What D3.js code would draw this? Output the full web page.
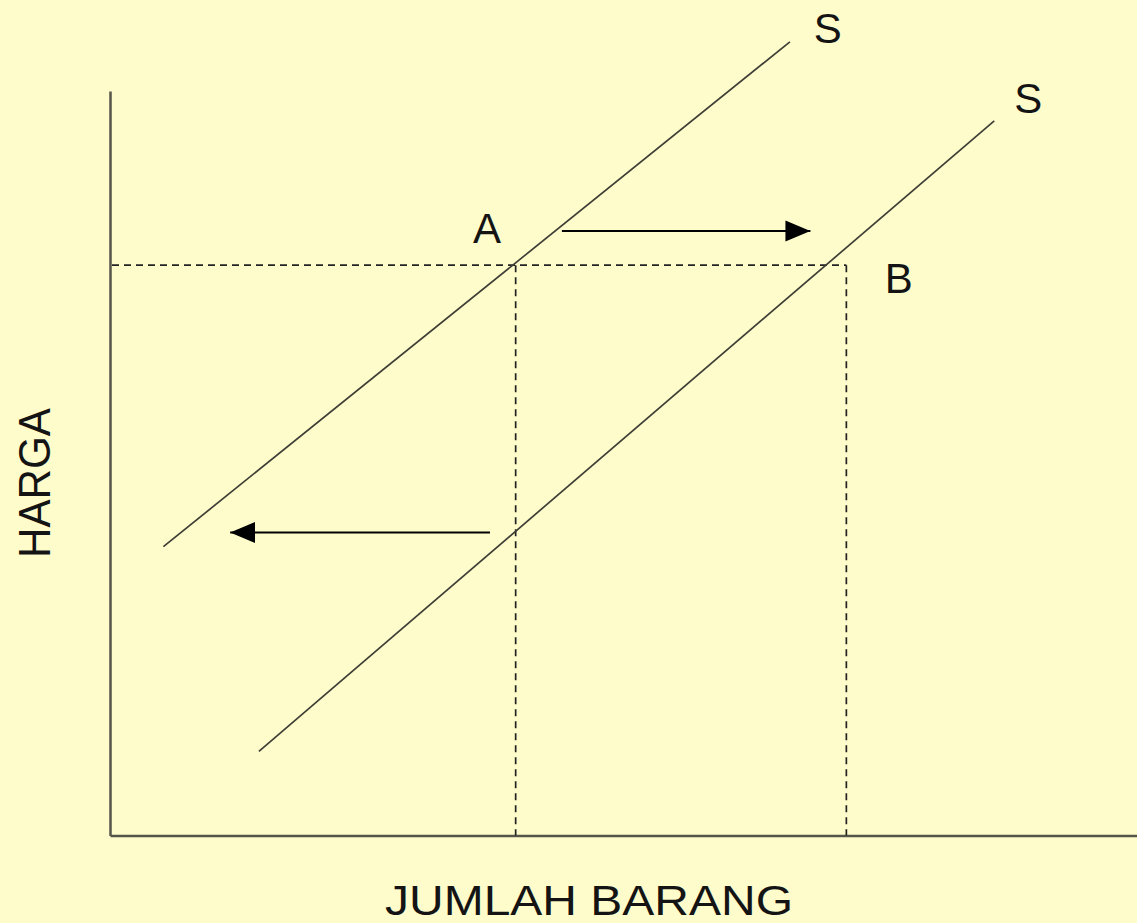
<!DOCTYPE html>
<html>
<head>
<meta charset="utf-8">
<script src="https://cdn.jsdelivr.net/npm/d3@7"></script>
<style>
  html, body { margin: 0; padding: 0; background: #fffccb; }
  svg { display: block; }
  text { font-family: 'Liberation Sans', Arial, sans-serif; fill: #141414; }
</style>
</head>
<body>
<script>
const w = 1137;
const h = 923;

// supply curves, [quantity, price] ends
const supplyLines = [
  { name: 'S', pts: [[5.2, 38.8], [66.2, 106.6]], label: [69.9, 106.4] },
  { name: 'S', pts: [[14.5, 11.3], [86.1, 96.0]], label: [89.4, 97.0] }
];
const price = 76.6;
const quantities = [39.5, 71.7];
const pointLabels = [
  { name: 'A', pos: [36.7, 79.6] },
  { name: 'B', pos: [76.8, 72.9] }
];
// shift arrows [fromX, toX, y]
const shifts = [
  [44.0, 68.2, 81.2],
  [37.0, 11.7, 40.7]
];

const x = d3.scaleLinear().domain([0, 100]).range([110, 1137]);
const y = d3.scaleLinear().domain([0, 100]).range([835.5, 91]);

const svg = d3.select('body')
              .append('svg')
              .attr('width', w)
              .attr('height', h);

svg.append('rect')
   .attr('width', w)
   .attr('height', h)
   .attr('fill', '#fffccb');

svg.append('defs')
   .append('marker')
   .attr('id', 'head')
   .attr('markerUnits', 'userSpaceOnUse')
   .attr('markerWidth', 26)
   .attr('markerHeight', 22)
   .attr('refX', 25)
   .attr('refY', 10.5)
   .attr('orient', 'auto')
   .append('path')
   .attr('d', 'M0,0 L25,10.5 L0,21 Z')
   .attr('fill', '#000');

// axes, no ticks
const xAxis = d3.axisBottom(x).tickValues([]).tickSizeOuter(0);
const yAxis = d3.axisLeft(y).tickValues([]).tickSizeOuter(0);

svg.append('g')
   .attr('transform', 'translate(0,' + y(0) + ')')
   .call(xAxis)
   .select('.domain')
   .attr('stroke', '#55554a')
   .attr('stroke-width', 2.5);

svg.append('g')
   .attr('transform', 'translate(' + x(0) + ',0)')
   .call(yAxis)
   .select('.domain')
   .attr('stroke', '#55554a')
   .attr('stroke-width', 2.5);

// dashed guides
const guides = svg.append('g')
                  .attr('stroke', '#222')
                  .attr('stroke-width', 1.7)
                  .attr('stroke-dasharray', '7,5');

guides.append('line')
      .attr('x1', x(0) + 2)
      .attr('x2', x(quantities[1]))
      .attr('y1', y(price))
      .attr('y2', y(price));

guides.selectAll('.v')
      .data(quantities)
      .enter()
      .append('line')
      .attr('class', 'v')
      .attr('x1', d => x(d))
      .attr('x2', d => x(d))
      .attr('y1', y(price))
      .attr('y2', y(0));

// supply lines
const line = d3.line().x(d => x(d[0])).y(d => y(d[1]));

svg.selectAll('.supply')
   .data(supplyLines)
   .enter()
   .append('path')
   .attr('class', 'supply')
   .attr('d', d => line(d.pts))
   .attr('fill', 'none')
   .attr('stroke', '#3e3e36')
   .attr('stroke-width', 1.7);

svg.selectAll('.slabel')
   .data(supplyLines)
   .enter()
   .append('text')
   .attr('class', 'slabel')
   .attr('x', d => x(d.label[0]))
   .attr('y', d => y(d.label[1]))
   .attr('text-anchor', 'middle')
   .attr('font-size', 42)
   .text(d => d.name);

svg.selectAll('.plabel')
   .data(pointLabels)
   .enter()
   .append('text')
   .attr('class', 'plabel')
   .attr('x', d => x(d.pos[0]))
   .attr('y', d => y(d.pos[1]))
   .attr('text-anchor', 'middle')
   .attr('font-size', 42)
   .text(d => d.name);

// shift arrows
svg.selectAll('.shift')
   .data(shifts)
   .enter()
   .append('line')
   .attr('class', 'shift')
   .attr('x1', d => x(d[0]))
   .attr('x2', d => x(d[1]))
   .attr('y1', d => y(d[2]))
   .attr('y2', d => y(d[2]))
   .attr('stroke', '#000')
   .attr('stroke-width', 2)
   .attr('marker-end', 'url(#head)');

// axis titles
svg.append('text')
   .text('JUMLAH BARANG')
   .attr('x', 589)
   .attr('y', 915)
   .attr('text-anchor', 'middle')
   .attr('font-size', 43)
   .attr('textLength', 408)
   .attr('lengthAdjust', 'spacingAndGlyphs');

svg.append('text')
   .text('HARGA')
   .attr('transform', 'translate(50,483) rotate(-90)')
   .attr('text-anchor', 'middle')
   .attr('font-size', 44)
   .attr('textLength', 150)
   .attr('lengthAdjust', 'spacingAndGlyphs');
</script>
</body>
</html>
